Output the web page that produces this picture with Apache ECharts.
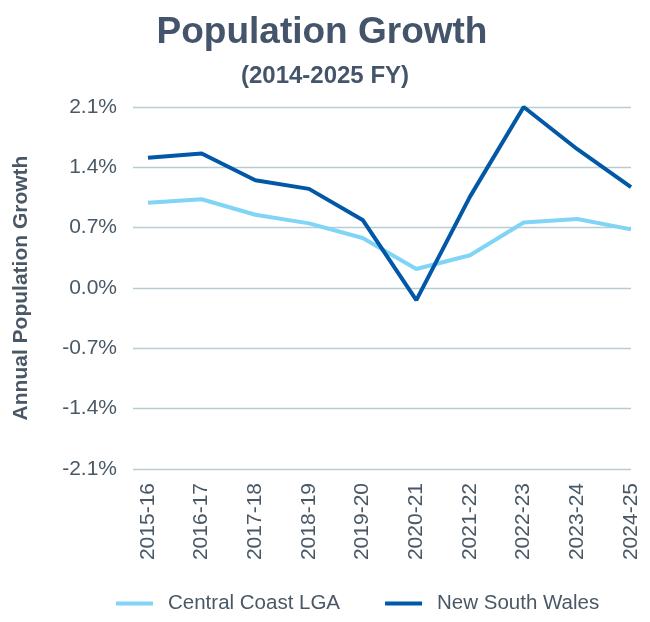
<!DOCTYPE html>
<html>
<head>
<meta charset="utf-8">
<script src="https://cdn.jsdelivr.net/npm/echarts@6/dist/echarts.min.js"></script>
<style>
  html, body { margin: 0; padding: 0; background: #fff; }
  #main { width: 650px; height: 622px; }
</style>
</head>
<body>
<div id="main"></div>
<script>
// 数据
const years = ['2015-16', '2016-17', '2017-18', '2018-19', '2019-20', '2020-21', '2021-22', '2022-23', '2023-24', '2024-25'];
const centralCoast = [0.99, 1.03, 0.85, 0.75, 0.58, 0.22, 0.38, 0.76, 0.80, 0.68];
const nsw = [1.51, 1.56, 1.25, 1.15, 0.79, -0.14, 1.06, 2.10, 1.61, 1.17];
const yTicks = [-2.1, 2.1, 0.7]; // min, max, interval

const textColor = '#4a5866';
const font = 'Liberation Sans, Arial, sans-serif';

const mycharts = echarts.init(document.getElementById('main'));
const options = {
  animation: false,
  title: [
    {
      text: 'Population Growth',
      left: 317, top: 9, textAlign: 'center',
      textStyle: { fontFamily: font, fontSize: 37, fontWeight: 'bold', color: '#44546a' }
    },
    {
      text: '(2014-2025 FY)',
      left: 320, top: 59, textAlign: 'center',
      textStyle: { fontFamily: font, fontSize: 24, fontWeight: 'bold', color: '#44546a' }
    }
  ],
  legend: {
    bottom: 3,
    left: 111,
    icon: 'rect',
    itemWidth: 37,
    itemHeight: 4,
    itemGap: 45,
    textStyle: { fontFamily: font, fontSize: 20.5, color: textColor, padding: [0, 0, 0, 10] },
    data: ['Central Coast LGA', 'New South Wales']
  },
  grid: [
    { left: 133, right: 19, top: 107, height: 362 },
    { left: 148, right: 19, top: 107, height: 362 }
  ],
  xAxis: [
    { type: 'value', gridIndex: 0, show: false, min: 0, max: 1 },
    {
      type: 'category', gridIndex: 1, data: years, boundaryGap: false,
      axisLine: { show: false }, axisTick: { show: false },
      axisLabel: { rotate: 90, margin: 14, fontFamily: font, fontSize: 21, color: textColor, interval: 0 }
    }
  ],
  yAxis: [
    {
      type: 'value', gridIndex: 0,
      min: yTicks[0], max: yTicks[1], interval: yTicks[2],
      name: 'Annual Population Growth',
      nameLocation: 'middle', nameGap: 101, nameRotate: 90,
      nameTextStyle: { fontFamily: font, fontSize: 21, fontWeight: 'bold', color: textColor },
      axisLine: { show: false }, axisTick: { show: false },
      axisLabel: {
        margin: 16, fontFamily: font, fontSize: 21, color: textColor,
        formatter: v => v.toFixed(1) + '%'
      },
      splitLine: { lineStyle: { color: '#b9cdd1', width: 1.3 } }
    },
    {
      type: 'value', gridIndex: 1, show: false,
      min: yTicks[0], max: yTicks[1], interval: yTicks[2],
      splitLine: { show: false }
    }
  ],
  series: [
    {
      name: 'Central Coast LGA', type: 'line', xAxisIndex: 1, yAxisIndex: 1,
      data: centralCoast, showSymbol: false, symbol: 'none',
      lineStyle: { color: '#80d4f6', width: 4 }, itemStyle: { color: '#80d4f6' }
    },
    {
      name: 'New South Wales', type: 'line', xAxisIndex: 1, yAxisIndex: 1,
      data: nsw, showSymbol: false, symbol: 'none',
      lineStyle: { color: '#0058a6', width: 4 }, itemStyle: { color: '#0058a6' }
    }
  ]
};
mycharts.setOption(options);
</script>
</body>
</html>
